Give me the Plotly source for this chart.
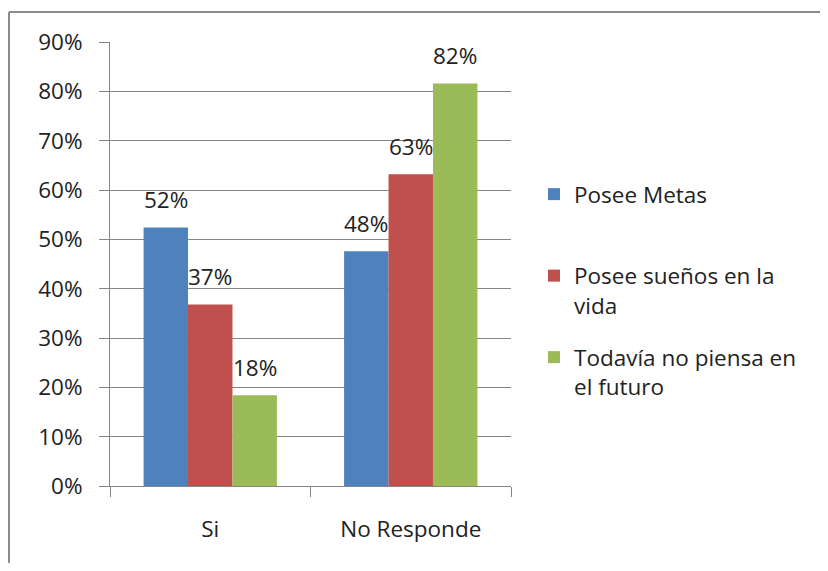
import plotly.graph_objects as go

categories = ["Si", "No Responde"]
series_names = ["Posee Metas", "Posee sueños en la<br>vida", "Todavía no piensa en<br>el futuro"]
posee_metas = [0.524, 0.476]
posee_suenos = [0.368, 0.632]
no_piensa = [0.184, 0.816]
colors = ["#4F81BD", "#C0504D", "#9BBB59"]
y_ticks = [0, 0.1, 0.2, 0.3, 0.4, 0.5, 0.6, 0.7, 0.8, 0.9]
y_tick_labels = ["0%", "10%", "20%", "30%", "40%", "50%", "60%", "70%", "80%", "90%"]

# the page body adds an 8px margin on every side; keep the figure inside the window
OFF = 8
W, H = 828 - 2 * OFF, 571 - 2 * OFF
PX0, PX1, PY0, PY1 = 110, 511, 42, 486  # plot area in page pixels
L, R, T, B = PX0 - OFF, W - (PX1 - OFF), PY0 - OFF, H - (PY1 - OFF)
FONT = "Open Sans"
FS = 22.5
TXT = "#222222"

all_series = [posee_metas, posee_suenos, no_piensa]
legend_names = [series_names[0] + "<br>\u00a0", series_names[1], series_names[2]]

fig = go.Figure()
for k, (name, vals, col) in enumerate(zip(legend_names, all_series, colors)):
    fig.add_trace(go.Bar(x=categories, y=vals, name=name, marker_color=col,
                         marker_line_width=0, legendgroup=f"g{k}"))

plot_w = PX1 - PX0
plot_h = PY1 - PY0
cat_w = plot_w / len(categories)
bargap = 0.335
bar_w = cat_w * (1 - bargap) / len(all_series)
annotations = []
for i, vals in enumerate(all_series):
    for c, v in zip(categories, vals):
        annotations.append(dict(x=c, y=v, xref="x", yref="y", text=f"{round(v*100)}%",
                                showarrow=False, xshift=(i - 1) * bar_w, yshift=10,
                                yanchor="bottom", font=dict(family=FONT, size=FS, color=TXT)))

def px_x(p):
    return (p - PX0) / plot_w

def px_y(p):
    return (PY1 - p) / plot_h

border = [
    dict(type="line", xref="paper", yref="paper", x0=px_x(9), x1=px_x(9),
         y0=px_y(12), y1=px_y(564), line=dict(color="#8c8c8c", width=2), layer="below"),
    dict(type="line", xref="paper", yref="paper", x0=px_x(9), x1=px_x(822),
         y0=px_y(12), y1=px_y(12), line=dict(color="#8c8c8c", width=2), layer="below"),
]

fig.update_layout(
    width=W, height=H,
    margin=dict(l=L, r=R, t=T, b=B, pad=0),
    paper_bgcolor="white", plot_bgcolor="white",
    barmode="group", bargap=bargap, bargroupgap=0,
    font=dict(family=FONT, size=FS, color=TXT),
    annotations=annotations,
    legend=dict(x=px_x(534), y=px_y(173), xanchor="left", yanchor="top",
                valign="top", tracegroupgap=20,
                font=dict(family=FONT, size=FS, color=TXT),
                bgcolor="rgba(0,0,0,0)"),
    shapes=border,
)
fig.update_xaxes(showline=True, linecolor="#868686", linewidth=1,
                 ticks="outside", tickson="boundaries", ticklen=10, tickcolor="#868686",
                 ticklabelstandoff=23,
                 tickfont=dict(family=FONT, size=FS, color=TXT), showgrid=False)
fig.update_yaxes(range=[0, 0.9], tickvals=y_ticks, ticktext=y_tick_labels,
                 showline=True, linecolor="#868686", linewidth=1,
                 ticks="outside", ticklen=10, tickcolor="#868686", ticklabelstandoff=12,
                 showgrid=True, gridcolor="#868686", gridwidth=1,
                 tickfont=dict(family=FONT, size=FS, color=TXT), zeroline=False)

fig.write_html("out.html")
